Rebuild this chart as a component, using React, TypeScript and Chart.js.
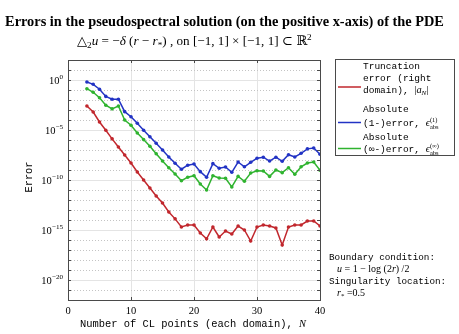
import React, { useEffect, useRef } from 'react';
import { Chart, registerables } from 'chart.js';

Chart.register(...registerables);

// ---- data ----
const nPoints = [3, 4, 5, 6, 7, 8, 9, 10, 11, 12, 13, 14, 15, 16, 17, 18, 19, 20, 21, 22,
  23, 24, 25, 26, 27, 28, 29, 30, 31, 32, 33, 34, 35, 36, 37, 38, 39, 40];

const truncationError = [2.5e-3, 6.3e-4, 6.3e-5, 9.3e-6, 1.3e-6, 2.0e-7, 3.2e-8, 5.0e-9, 6.3e-10, 1.0e-10,
  1.6e-11, 2.5e-12, 5.0e-13, 6.3e-14, 1.3e-14, 2.0e-15, 3.2e-15, 3.2e-15, 5.0e-16, 1.3e-16,
  2.0e-15, 2.0e-16, 7.9e-16, 4.0e-16, 2.5e-15, 1.0e-15, 7.9e-17, 2.0e-15, 3.2e-15, 2.5e-15,
  1.6e-15, 3.2e-17, 2.0e-15, 3.2e-15, 3.2e-15, 7.9e-15, 7.9e-15, 2.5e-15];

const absError1 = [0.63, 0.37, 0.12, 2.3e-2, 1.2e-2, 1.2e-2, 6.8e-4, 2.1e-4, 4.7e-5, 9.3e-6,
  2.1e-6, 4.7e-7, 1.0e-7, 2.0e-8, 4.7e-9, 1.2e-9, 3.0e-9, 4.0e-9, 6.8e-10, 1.9e-10,
  4.3e-9, 1.5e-9, 2.0e-9, 5.9e-10, 6.3e-9, 2.1e-9, 5.9e-9, 1.5e-8, 1.9e-8, 7.9e-9,
  1.9e-8, 7.4e-9, 3.4e-8, 2.0e-8, 4.7e-8, 1.3e-7, 1.6e-7, 3.7e-8];

const absErrorInf = [0.135, 5.9e-2, 1.7e-2, 3.0e-3, 1.3e-3, 2.5e-3, 1.0e-4, 3.0e-5, 5.0e-6, 1.1e-6,
  2.4e-7, 4.2e-8, 7.9e-9, 1.7e-9, 4.0e-10, 8.5e-11, 1.9e-10, 2.7e-10, 4.0e-11, 1.0e-11,
  2.7e-10, 1.6e-10, 1.5e-10, 2.0e-11, 2.3e-10, 7.4e-11, 5.0e-10, 8.5e-10, 7.9e-10, 2.3e-10,
  1.0e-9, 5.4e-10, 1.7e-9, 3.7e-10, 2.1e-9, 5.0e-9, 6.3e-9, 9.3e-10];

const xTickValues = [0, 10, 20, 30, 40];
const yTickExponents = [0, -5, -10, -15, -20];
const yTickLabels = ['0', '−5', '−10', '−15', '−20'];
const yDecades = [2, 1, 0, -1, -2, -3, -4, -5, -6, -7, -8, -9, -10, -11, -12, -13, -14, -15, -16, -17, -18, -19, -20, -21, -22];

const titleText = 'Errors in the pseudospectral solution (on the positive x-axis) of the PDE';
const xAxisText = 'Number of CL points (each domain), ';
const yAxisText = 'Error';

const RED = '#c1272d';
const BLUE = '#2233c4';
const GREEN = '#2fb32f';

const SERIF = '"Liberation Serif", "DejaVu Serif", serif';
const MONO = '"Liberation Mono", "DejaVu Sans Mono", monospace';

type Run = { t?: string; fam?: string; size?: number; style?: string; dy?: number; sup?: string; sub?: string };

function fnt(style: string | undefined, size: number, fam: string) {
  return `${style ? style + ' ' : ''}${size}px ${fam}`;
}

function measureRuns(ctx: CanvasRenderingContext2D, runs: Run[], base: number) {
  let w = 0;
  for (const r of runs) {
    if (r.sup !== undefined || r.sub !== undefined) {
      ctx.font = fnt('', base * (r.size ?? 0.62), r.fam ?? SERIF);
      w += Math.max(ctx.measureText(r.sup ?? '').width, ctx.measureText(r.sub ?? '').width);
    } else {
      ctx.font = fnt(r.style, base * (r.size ?? 1), r.fam ?? SERIF);
      w += ctx.measureText(r.t ?? '').width;
    }
  }
  return w;
}

function drawRuns(ctx: CanvasRenderingContext2D, runs: Run[], x: number, y: number, base: number,
  align: 'left' | 'center' | 'right' = 'left', fitWidth?: number) {
  if (fitWidth) base = base * fitWidth / measureRuns(ctx, runs, base);
  const w = measureRuns(ctx, runs, base);
  let cx = align === 'center' ? x - w / 2 : align === 'right' ? x - w : x;
  ctx.textAlign = 'left';
  ctx.textBaseline = 'alphabetic';
  ctx.fillStyle = '#000';
  for (const r of runs) {
    if (r.sup !== undefined || r.sub !== undefined) {
      ctx.font = fnt('', base * (r.size ?? 0.62), r.fam ?? SERIF);
      ctx.fillText(r.sup ?? '', cx, y - base * 0.45);
      ctx.fillText(r.sub ?? '', cx, y + base * 0.32);
      cx += Math.max(ctx.measureText(r.sup ?? '').width, ctx.measureText(r.sub ?? '').width);
    } else {
      ctx.font = fnt(r.style, base * (r.size ?? 1), r.fam ?? SERIF);
      ctx.fillText(r.t ?? '', cx, y + (r.dy ?? 0) * base);
      cx += ctx.measureText(r.t ?? '').width;
    }
  }
}

const decorPlugin = {
  id: 'decor',
  beforeDatasetsDraw(chart: any) {
    const ctx: CanvasRenderingContext2D = chart.ctx;
    const { left, right, top, bottom } = chart.chartArea;
    const xs = chart.scales.x;
    const ys = chart.scales.y;
    ctx.save();
    ctx.lineWidth = 1;
    ctx.strokeStyle = '#e4e4e4';
    for (const v of xTickValues) {
      const x = Math.round(xs.getPixelForValue(v)) + 0.5;
      if (x <= left + 1 || x >= right - 1) continue;
      ctx.beginPath(); ctx.moveTo(x, top); ctx.lineTo(x, bottom); ctx.stroke();
    }
    for (const e of yDecades) {
      const y = Math.round(ys.getPixelForValue(Math.pow(10, e))) + 0.5;
      if (y <= top + 1 || y >= bottom - 1) continue;
      if (e % 5 === 0) {
        ctx.setLineDash([]);
        ctx.strokeStyle = '#e4e4e4';
      } else {
        ctx.setLineDash([1, 2]);
        ctx.strokeStyle = '#c4c4c4';
      }
      ctx.beginPath(); ctx.moveTo(left, y); ctx.lineTo(right, y); ctx.stroke();
    }
    ctx.restore();
  },
  afterDatasetsDraw(chart: any) {
    const ctx: CanvasRenderingContext2D = chart.ctx;
    const { left, right, top, bottom } = chart.chartArea;
    const xs = chart.scales.x;
    const ys = chart.scales.y;
    ctx.save();
    ctx.setLineDash([]);
    ctx.strokeStyle = '#4a4a4a';
    ctx.lineWidth = 1;
    ctx.strokeRect(Math.round(left) + 0.5, Math.round(top) + 0.5, Math.round(right - left), Math.round(bottom - top));
    ctx.beginPath();
    for (const e of yDecades) {
      const y = Math.round(ys.getPixelForValue(Math.pow(10, e))) + 0.5;
      ctx.moveTo(left, y); ctx.lineTo(left + 3, y);
      ctx.moveTo(right, y); ctx.lineTo(right - 3, y);
    }
    for (const v of xTickValues) {
      const x = Math.round(xs.getPixelForValue(v)) + 0.5;
      ctx.moveTo(x, bottom); ctx.lineTo(x, bottom - 3);
      ctx.moveTo(x, top); ctx.lineTo(x, top + 3);
    }
    ctx.stroke();

    yTickExponents.forEach((e, i) => {
      const y = ys.getPixelForValue(Math.pow(10, e));
      drawRuns(ctx, [{ t: '10' }, { t: yTickLabels[i], size: 0.68, dy: -0.45 }], left - 5, y + 3.6, 10.5, 'right');
    });
    xTickValues.forEach((v) => {
      const x = xs.getPixelForValue(v);
      drawRuns(ctx, [{ t: String(v) }], x, bottom + 13.5, 10.5, 'center');
    });

    drawRuns(ctx, [{ t: xAxisText, fam: MONO }, { t: 'N', style: 'italic' }], 80, 327, 10.4, 'left', 226);
    ctx.save();
    ctx.translate(32, (top + bottom) / 2 - 3);
    ctx.rotate(-Math.PI / 2);
    drawRuns(ctx, [{ t: yAxisText, fam: MONO }], 0, 0, 10.4, 'center');
    ctx.restore();

    drawRuns(ctx, [{ t: titleText, style: 'bold' }], 224.5, 26, 12, 'center', 439);
    drawRuns(ctx, [
      { t: '△' }, { t: '2', size: 0.7, dy: 0.25 }, { t: 'u', style: 'italic' }, { t: ' = −' },
      { t: 'δ', style: 'italic' }, { t: ' (' }, { t: 'r', style: 'italic' }, { t: ' − ' },
      { t: 'r', style: 'italic' }, { t: '*', size: 0.7, dy: 0.2 },
      { t: ') , on [−1, 1] × [−1, 1] ⊂ ℝ' }, { t: '2', size: 0.7, dy: -0.4 },
    ], 77, 45, 11, 'left', 235);

    // legend
    const lx = 335, ly = 59, lw = 119, lh = 96;
    ctx.fillStyle = '#fff';
    ctx.fillRect(lx, ly, lw, lh);
    ctx.strokeStyle = '#4a4a4a';
    ctx.strokeRect(lx + 0.5, ly + 0.5, lw, lh);
    const sw = (c: string, y: number) => {
      ctx.strokeStyle = c; ctx.lineWidth = 1.5;
      ctx.beginPath(); ctx.moveTo(338, y); ctx.lineTo(361, y); ctx.stroke();
      ctx.lineWidth = 1;
    };
    const ds = chart.data.datasets;
    sw(ds[0].borderColor, 87);
    sw(ds[1].borderColor, 122.5);
    sw(ds[2].borderColor, 148.5);
    const tx = 363, fs = 9.5;
    drawRuns(ctx, [{ t: 'Truncation', fam: MONO }], tx, 68.5, fs);
    drawRuns(ctx, [{ t: 'error (right', fam: MONO }], tx, 80.5, fs);
    drawRuns(ctx, [{ t: 'domain), ', fam: MONO }, { t: '|', size: 1.1 }, { t: 'a', style: 'italic', size: 1.1 },
      { t: 'N', style: 'italic', size: 0.75, dy: 0.25 }, { t: '|', size: 1.1 }], tx, 92.5, fs);
    drawRuns(ctx, [{ t: 'Absolute', fam: MONO }], tx, 112, fs);
    drawRuns(ctx, [{ t: '(1-)error, ', fam: MONO }, { t: 'ϵ', style: 'italic', size: 1.1 },
      { sup: '(1)', sub: 'abs', size: 0.68 }], tx, 126, fs);
    drawRuns(ctx, [{ t: 'Absolute', fam: MONO }], tx, 140, fs);
    drawRuns(ctx, [{ t: '(∞-)error, ', fam: MONO }, { t: 'ϵ', style: 'italic', size: 1.1 },
      { sup: '(∞)', sub: 'abs', size: 0.68 }], tx, 152, fs);

    // annotation
    const ax = 329, af = 9.3;
    drawRuns(ctx, [{ t: 'Boundary condition:', fam: MONO }], ax, 260, af);
    drawRuns(ctx, [{ t: 'u', style: 'italic' }, { t: ' = 1 − log (2' }, { t: 'r', style: 'italic' }, { t: ') /2' }], ax + 8, 272, 10);
    drawRuns(ctx, [{ t: 'Singularity location:', fam: MONO }], ax, 284, af);
    drawRuns(ctx, [{ t: 'r', style: 'italic' }, { t: '*', size: 0.7, dy: 0.2 }, { t: ' =0.5' }], ax + 8, 296, 10);

    ctx.restore();
  },
};

export default function App() {
  const canvasRef = useRef<HTMLCanvasElement | null>(null);

  useEffect(() => {
    document.body.style.margin = '0';
    document.body.style.overflow = 'hidden';
    const canvas = canvasRef.current;
    if (!canvas) return;
    const mk = (vals: number[]) => nPoints.map((n, i) => ({ x: n, y: vals[i] }));
    const dsStyle = (color: string) => ({
      borderColor: color,
      backgroundColor: color,
      borderWidth: 1.5,
      pointRadius: 1.8,
      pointBorderWidth: 0,
      pointBackgroundColor: color,
      fill: false,
      tension: 0,
    });
    const chart = new Chart(canvas, {
      type: 'line',
      data: {
        datasets: [
          { label: 'Truncation error (right domain), |a_N|', data: mk(truncationError), ...dsStyle(RED) },
          { label: 'Absolute (1-)error', data: mk(absError1), ...dsStyle(BLUE) },
          { label: 'Absolute (∞-)error', data: mk(absErrorInf), ...dsStyle(GREEN) },
        ],
      },
      options: {
        responsive: false,
        animation: false,
        devicePixelRatio: 1,
        layout: { padding: { left: 68, right: 139, top: 60, bottom: 34 } },
        scales: {
          x: { type: 'linear', min: 0, max: 40, display: false },
          y: { type: 'logarithmic', min: 1e-22, max: 1e2, display: false },
        },
        plugins: {
          legend: { display: false },
          tooltip: { enabled: false },
          title: { display: false },
        },
        events: [],
      },
      plugins: [decorPlugin],
    } as any);
    return () => chart.destroy();
  }, []);

  return (
    <div style={{ width: 459, height: 334, background: '#fff' }}>
      <canvas ref={canvasRef} width={459} height={334} style={{ display: 'block' }} />
    </div>
  );
}
